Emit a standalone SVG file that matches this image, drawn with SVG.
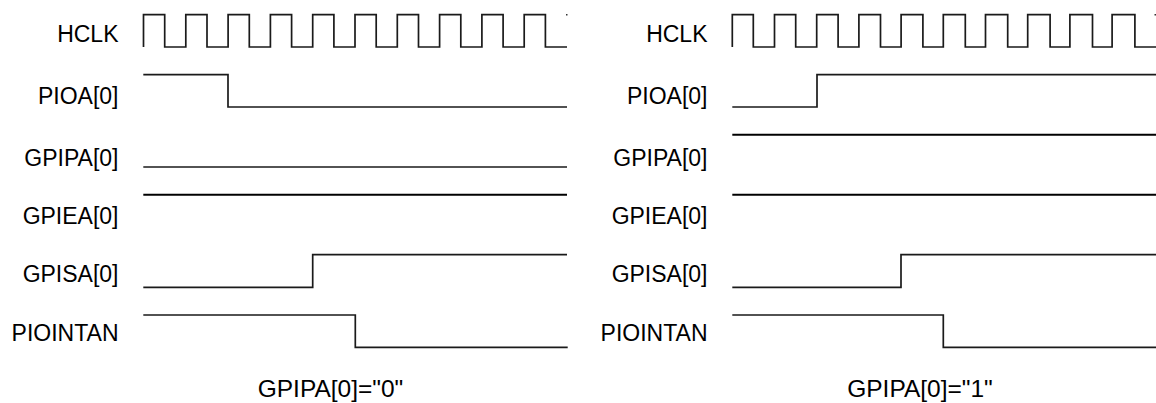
<svg xmlns="http://www.w3.org/2000/svg" width="1156" height="403" viewBox="0 0 1156 403">
<style>
.w{fill:none;stroke:#1a1a1a;stroke-width:1.7;stroke-linejoin:miter}
.b{stroke:#000;stroke-width:2}
.lbl{font-family:"Liberation Sans",Arial,sans-serif;font-size:23px;fill:#000;text-anchor:end}
.cap{font-family:"Liberation Sans",Arial,sans-serif;font-size:24.5px;fill:#000;text-anchor:middle}
</style>
<rect width="1156" height="403" fill="#fff"/>
<g id="labels-left">
<text class="lbl" x="118.5" y="42">HCLK</text>
<text class="lbl" x="118.5" y="104.3">PIOA[0]</text>
<text class="lbl" x="118.5" y="165.7">GPIPA[0]</text>
<text class="lbl" x="118.5" y="224">GPIEA[0]</text>
<text class="lbl" x="118.5" y="281.7">GPISA[0]</text>
<text class="lbl" x="118.5" y="341">PIOINTAN</text>
</g>
<g id="labels-right">
<text class="lbl" x="707.5" y="42">HCLK</text>
<text class="lbl" x="707.5" y="104.3">PIOA[0]</text>
<text class="lbl" x="707.5" y="165.7">GPIPA[0]</text>
<text class="lbl" x="707.5" y="224">GPIEA[0]</text>
<text class="lbl" x="707.5" y="281.7">GPISA[0]</text>
<text class="lbl" x="707.5" y="341">PIOINTAN</text>
</g>
<g id="waves-left">
<path id="hclk-l" class="w" d="M143.5,47V14.7H164.7V47H185.8V14.7H207V47H228.1V14.7H249.3V47H270.4V14.7H291.6V47H312.7V14.7H333.9V47H355V14.7H376.2V47H397.3V14.7H418.5V47H439.6V14.7H460.8V47H481.9V14.7H503.1V47H524.2V14.7H545.4V47H567"/>
<rect x="566" y="14" width="1.5" height="1.5" fill="#333"/>
<path id="pioa-l" class="w" d="M143.3,74.7H228V107H567"/>
<path id="gpipa-l" class="w" d="M143.3,167H567"/>
<path id="gpiea-l" class="w b" d="M143.3,194.7H567"/>
<path id="gpisa-l" class="w" d="M143.3,287.3H312.7V254.7H567"/>
<path id="piointan-l" class="w" d="M143.3,315H355.3V347.3H567.7"/>
</g>
<g id="waves-right">
<path id="hclk-r" class="w" d="M732.3,47V14.7H753.3V47H774.5V14.7H795.7V47H816.7V14.7H838.1V47H858.9V14.7H880.5V47H901.1V14.7H922.9V47H943.3V14.7H965.3V47H985.5V14.7H1007.7V47H1027.7V14.7H1050.1V47H1069.9V14.7H1092.5V47H1112.1V14.7H1134.9V47H1156"/>
<rect x="1154.5" y="14" width="1.5" height="1.5" fill="#333"/>
<path id="pioa-r" class="w" d="M732.3,107H817V74.7H1156"/>
<path id="gpipa-r" class="w b" d="M732.3,134.7H1156"/>
<path id="gpiea-r" class="w b" d="M732.3,194.7H1156"/>
<path id="gpisa-r" class="w" d="M732.3,287.3H901V254.7H1156"/>
<path id="piointan-r" class="w" d="M732.3,315H943.3V347.3H1156"/>
</g>
<g id="captions">
<text class="cap" x="330.5" y="397.3">GPIPA[0]="0"</text>
<text class="cap" x="920" y="397.3">GPIPA[0]="1"</text>
</g>
</svg>
